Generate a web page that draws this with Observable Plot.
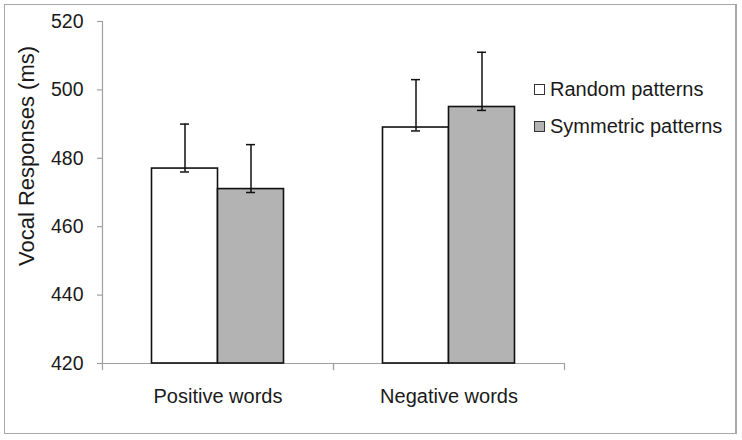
<!DOCTYPE html>
<html>
<head>
<meta charset="utf-8">
<script src="https://cdn.jsdelivr.net/npm/d3@7"></script>
<script src="https://cdn.jsdelivr.net/npm/@observablehq/plot@0.6"></script>
<style>
  html, body { margin: 0; padding: 0; background: #fff; }
  #wrap { position: relative; width: 742px; height: 440px; font-family: "Liberation Sans", Arial, sans-serif; color: #1a1a1a; }
  #border { position: absolute; left: 4px; top: 4px; width: 730px; height: 428px; border: 1px solid #a8a8a8; border-right-width: 2px; pointer-events: none; }
  #ytitle { position: absolute; left: 27px; top: 156px; transform: translate(-50%, -50%) rotate(-90deg); font-size: 22px; white-space: nowrap; }
  #legend { position: absolute; left: 534px; top: 78px; font-size: 20px; }
  .row { display: flex; align-items: center; height: 22px; margin-bottom: 15px; }
  .sw { width: 9px; height: 9px; border: 1.5px solid #333; margin-right: 5px; margin-top: 1px; }
</style>
</head>
<body>
<div id="wrap">
  <div id="chart"></div>
  <div id="ytitle">Vocal Responses (ms)</div>
  <div id="legend"></div>
  <div id="border"></div>
</div>
<script>
const categories = ["Positive words", "Negative words"];
const series = ["Random patterns", "Symmetric patterns"];
const colors = ["#ffffff", "#b3b3b3"];
const randomValues = [477, 489];
const symmetricValues = [471, 495];
const randomErrHigh = [13, 14];
const symmetricErrHigh = [13, 16];
const randomErrLow = [1, 1];
const symmetricErrLow = [1, 1];
const yDomain = [420, 520];
const yTicks = [420, 440, 460, 480, 500, 520];

const rows = [];
categories.forEach((c, i) => {
  rows.push({category: c, series: series[0], value: randomValues[i], hi: randomValues[i] + randomErrHigh[i], lo: randomValues[i] - randomErrLow[i]});
  rows.push({category: c, series: series[1], value: symmetricValues[i], hi: symmetricValues[i] + symmetricErrHigh[i], lo: symmetricValues[i] - symmetricErrLow[i]});
});

const axisGray = "#a0a0a0";
const chart = Plot.plot({
  width: 742,
  height: 440,
  marginLeft: 101.5,
  marginRight: 178,
  marginTop: 21,
  marginBottom: 77,
  style: {fontFamily: "'Liberation Sans', Arial, sans-serif", color: "#1a1a1a", background: "transparent"},
  fx: {domain: categories, padding: 0},
  x: {domain: series, paddingInner: 0, paddingOuter: 0.75, axis: null},
  y: {domain: yDomain},
  color: {domain: series, range: colors},
  marks: [
    Plot.ruleY([yDomain[0]], {stroke: axisGray, strokeWidth: 1.2}),
    Plot.frame({anchor: "left", stroke: axisGray, strokeWidth: 1.2, facetAnchor: "left"}),
    Plot.frame({anchor: "left", stroke: axisGray, strokeWidth: 1.2, insetTop: 342, insetBottom: -6}),
    Plot.frame({anchor: "right", stroke: axisGray, strokeWidth: 1.2, insetTop: 342, insetBottom: -6}),
    Plot.barY(rows, {fx: "category", x: "series", y1: () => yDomain[0], y2: "value", fill: "series", stroke: "#111", strokeWidth: 1.6}),
    Plot.ruleX(rows, {fx: "category", x: "series", y1: "lo", y2: "hi", stroke: "#111", strokeWidth: 1.5}),
    Plot.tickY(rows, {fx: "category", x: "series", y: "hi", stroke: "#111", strokeWidth: 1.5, insetLeft: 28.5, insetRight: 28.5}),
    Plot.tickY(rows, {fx: "category", x: "series", y: "lo", stroke: "#111", strokeWidth: 1.5, insetLeft: 28.5, insetRight: 28.5}),
    Plot.axisY({ticks: yTicks, tickSize: 5, tickPadding: 14, stroke: axisGray, fill: "#1a1a1a", fontSize: 19.5, label: null, strokeWidth: 1.2}),
    Plot.axisFx({anchor: "bottom", tickSize: 0, tickPadding: 25, fontSize: 20, label: null, fill: "#1a1a1a"})
  ]
});
document.getElementById("chart").appendChild(chart);

const legend = document.getElementById("legend");
series.forEach((s, i) => {
  const row = document.createElement("div");
  row.className = "row";
  const sw = document.createElement("div");
  sw.className = "sw";
  sw.style.background = colors[i];
  const t = document.createElement("span");
  t.textContent = s;
  row.appendChild(sw);
  row.appendChild(t);
  legend.appendChild(row);
});
</script>
</body>
</html>
